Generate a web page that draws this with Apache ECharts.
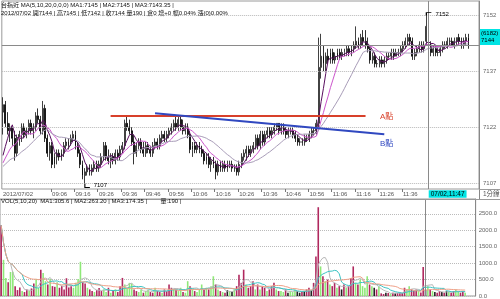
<!DOCTYPE html>
<html><head><meta charset="utf-8">
<script src="https://cdn.jsdelivr.net/npm/echarts@6/dist/echarts.min.js"></script>
<style>html,body{margin:0;padding:0;background:#fff}#c{width:500px;height:299px}</style>
</head><body><div id="c"></div>
<script>
// ---------- data ----------
const dateLabel = '2012/07/02';
const sessionStartMinute = 8 * 60 + 45;   // 08:45
const slotCount = 204;                     // time slots on the axis
const opens = [7126,7128,7123,7121,7122,7119,7115,7119,7120,7122,
 7120,7121,7123,7121,7122,7125,7124,7121,7127,7119,
 7115,7117,7112,7114,7115,7114,7115,7117,7117,7118,
 7119,7120,7117,7115,7112,7109,7110,7111,7110,7111,
 7112,7111,7112,7114,7117,7114,7113,7114,7113,7115,
 7114,7116,7117,7123,7122,7121,7118,7115,7117,7118,
 7116,7115,7117,7116,7115,7117,7118,7117,7119,7120,
 7119,7120,7121,7122,7123,7122,7124,7122,7121,7122,
 7120,7116,7117,7116,7117,7116,7115,7113,7114,7112,
 7113,7112,7110,7112,7111,7112,7111,7112,7112,7111,
 7111,7110,7112,7114,7115,7116,7115,7116,7117,7119,
 7117,7120,7118,7120,7121,7120,7121,7122,7123,7121,
 7122,7121,7120,7121,7121,7120,7119,7118,7118,7118,
 7119,7119,7120,7121,7121,7123,7138,7141,7139,7141,
 7140,7142,7140,7141,7142,7141,7142,7142,7143,7142,
 7143,7144,7145,7144,7146,7145,7144,7143,7140,7141,
 7139,7139,7140,7139,7140,7141,7141,7142,7141,7142,
 7142,7143,7144,7145,7146,7145,7141,7142,7143,7144,
 7143,7145,7144,7144,7142,7143,7142,7142,7143,7144,
 7144,7145,7145,7144,7145,7146,7145,7144,7145,7146];
const closes = [7128,7123,7121,7122,7119,7115,7119,7120,7122,7120,
 7121,7123,7121,7122,7125,7124,7121,7127,7119,7115,
 7117,7112,7114,7115,7114,7115,7117,7118,7118,7119,
 7120,7117,7115,7112,7109,7110,7111,7110,7111,7112,
 7111,7112,7114,7117,7114,7113,7114,7113,7115,7114,
 7116,7117,7123,7122,7121,7118,7115,7117,7118,7116,
 7115,7117,7116,7115,7117,7118,7117,7119,7120,7119,
 7120,7121,7122,7123,7122,7124,7122,7121,7122,7120,
 7116,7117,7116,7117,7116,7115,7113,7114,7112,7113,
 7112,7110,7112,7111,7112,7111,7112,7112,7111,7111,
 7110,7112,7114,7115,7116,7115,7116,7117,7119,7117,
 7120,7118,7120,7121,7120,7121,7122,7123,7121,7122,
 7121,7120,7121,7121,7120,7119,7118,7118,7118,7119,
 7119,7120,7121,7121,7123,7138,7141,7139,7141,7140,
 7142,7140,7141,7142,7141,7142,7142,7143,7142,7143,
 7144,7145,7144,7146,7145,7144,7143,7140,7141,7139,
 7139,7140,7139,7140,7141,7141,7142,7141,7142,7142,
 7143,7144,7145,7146,7145,7141,7142,7143,7144,7143,
 7144,7149,7144,7142,7143,7142,7142,7143,7144,7144,
 7145,7145,7144,7145,7146,7145,7144,7145,7146,7144];
const lows = [7120,7122,7120,7118,7117,7113,7114,7117,7118,7119,
 7119,7120,7120,7119,7121,7123,7120,7120,7118,7114,
 7113,7111,7111,7112,7113,7113,7114,7116,7116,7117,
 7118,7116,7114,7111,7108,7107,7109,7109,7109,7110,
 7110,7110,7111,7113,7113,7112,7111,7112,7112,7113,
 7113,7115,7116,7121,7120,7117,7112,7114,7116,7115,
 7114,7114,7115,7114,7114,7116,7116,7116,7118,7118,
 7118,7119,7120,7121,7121,7121,7121,7120,7120,7119,
 7115,7114,7115,7115,7115,7114,7112,7112,7111,7110,
 7111,7108,7109,7110,7110,7110,7110,7111,7110,7110,
 7109,7109,7111,7113,7113,7114,7114,7115,7116,7116,
 7116,7117,7117,7119,7119,7119,7120,7121,7120,7120,
 7120,7119,7119,7120,7119,7118,7117,7117,7117,7117,
 7118,7118,7119,7120,7120,7122,7135,7137,7137,7139,
 7139,7139,7139,7140,7140,7140,7141,7141,7141,7141,
 7142,7143,7143,7143,7144,7143,7142,7139,7139,7138,
 7138,7138,7138,7138,7139,7140,7140,7140,7141,7141,
 7141,7142,7143,7144,7144,7140,7140,7141,7142,7142,
 7142,7144,7142,7141,7141,7141,7141,7141,7142,7143,
 7143,7144,7144,7143,7144,7144,7143,7143,7144,7143];
const highs = [7130,7129,7126,7123,7122,7121,7120,7121,7123,7123,
 7122,7124,7124,7123,7126,7127,7125,7129,7128,7120,
 7118,7118,7115,7116,7116,7116,7118,7119,7119,7120,
 7121,7121,7118,7116,7113,7111,7112,7112,7112,7113,
 7113,7113,7115,7118,7118,7116,7115,7115,7116,7116,
 7117,7118,7124,7125,7124,7122,7120,7118,7119,7119,
 7118,7118,7118,7117,7118,7119,7119,7120,7121,7121,
 7121,7122,7123,7124,7125,7125,7125,7124,7123,7123,
 7121,7118,7118,7118,7118,7117,7116,7115,7115,7114,
 7114,7113,7113,7113,7113,7113,7113,7113,7113,7112,
 7112,7113,7115,7116,7117,7117,7117,7118,7120,7120,
 7121,7121,7121,7122,7122,7122,7123,7123,7123,7123,
 7123,7122,7122,7122,7122,7121,7120,7119,7119,7120,
 7120,7121,7122,7122,7124,7146,7147,7144,7142,7143,
 7143,7143,7142,7143,7143,7143,7143,7144,7144,7144,
 7145,7149,7146,7147,7148,7148,7146,7144,7142,7142,
 7140,7141,7141,7141,7142,7142,7143,7143,7143,7143,
 7144,7145,7146,7147,7147,7146,7143,7144,7145,7145,
 7145,7152,7145,7145,7144,7144,7143,7144,7145,7145,
 7146,7146,7146,7146,7146,7147,7146,7146,7147,7147];
const volumes = [2150,1100,550,420,730,740,300,180,260,150,
 120,200,150,230,380,520,250,800,700,450,
 350,520,300,280,420,250,300,200,540,260,
 300,250,400,520,1040,420,380,250,200,150,
 120,180,240,150,200,120,250,100,150,200,
 120,300,550,350,250,400,380,200,150,120,
 200,100,150,180,120,100,250,150,120,100,
 200,150,350,250,200,180,150,250,120,100,
 450,300,200,150,120,200,350,180,250,200,
 300,600,350,200,150,120,100,180,150,120,
 200,300,650,400,800,350,250,300,450,200,
 350,200,300,250,150,200,300,400,200,150,
 150,120,200,100,150,120,200,150,100,120,
 150,200,250,180,400,1200,2700,900,600,450,
 500,350,300,400,250,300,200,350,250,300,
 550,900,400,350,500,300,250,600,350,300,
 250,200,300,80,60,100,90,70,100,80,
 90,95,90,250,200,300,204,150,200,150,
 108,880,190,300,200,150,120,100,150,120,
 100,150,120,100,150,200,120,100,150,100];
// closes of the previous session used to seed the moving averages
const prevCloses = [7110,7111,7109,7110,7112,7111,7110,7109,7110,7111,
 7112,7110,7109,7110,7111,7112,7111,7110,7111,7112];
const maPeriods = [5, 10, 20];
const priceTicks = [7107, 7122, 7137, 7152];
const volTicks = [0, 500, 1000, 1500, 2000, 2500];
const xLabelFirst = 21, xLabelLast = 171, xLabelStep = 10;
const cursorIndex = 182, cursorPrice = 7144, openInterest = '(6182)';
const highIndex = 181, highValue = 7152, lowIndex = 35, lowValue = 7107;
const trendA = [[46, 7125], [155, 7125]];
const trendB = [[65, 7125.7], [163, 7120.1]];
const labelA = [164, 7124.7], labelB = [164, 7117.6];
const headerMA = ['MA1:7145', 'MA2:7145', 'MA3:7143.35'];
const volLegend = ['MA1:305.6', 'MA2:263.20', 'MA3:174.35'];

// ---------- derived ----------
const categories = [];
for (let k = 0; k < slotCount; k++) {
  const m = sessionStartMinute + k;
  categories.push(String(Math.floor(m / 60)).padStart(2, '0') + ':' + String(m % 60).padStart(2, '0'));
}
const candles = opens.map((o, i) => [o, closes[i], lows[i], highs[i]]);
const allCloses = prevCloses.concat(closes);
function priceMA(n) {
  return closes.map((c, i) => {
    const end = prevCloses.length + i;
    let s = 0; for (let k = end - n + 1; k <= end; k++) s += allCloses[k];
    return +(s / n).toFixed(2);
  });
}
function volMA(n) {
  return volumes.map((v, i) => {
    const st = Math.max(0, i - n + 1);
    let s = 0; for (let k = st; k <= i; k++) s += volumes[k];
    return +(s / (i - st + 1)).toFixed(2);
  });
}
const volBars = volumes.map((v, i) => ({
  value: v,
  itemStyle: { color: closes[i] > opens[i] ? '#b0285e' : (closes[i] < opens[i] ? '#8fe878' : '#222') }
}));

const FONT = '"Liberation Sans","Noto Sans CJK TC",sans-serif';
const priceMAColors = ['#5a1060', '#cc55cc', '#a89cb8'];
const volMAColors = ['#b8b8b8', '#3cc4c4', '#f0a088'];

const chart = echarts.init(document.getElementById('c'), null, { renderer: 'canvas', devicePixelRatio: 1 });

const dotted = priceTicks.map(v => ({ yAxis: v, lineStyle: { type: 'dotted', color: '#b8b8b8', width: 1 } }));

const option = {
  animation: false,
  backgroundColor: '#fff',
  grid: [
    { left: 0, right: 21, top: 1, height: 188, show: true, borderColor: '#9a9a9a', borderWidth: 1 },
    { left: 0, right: 21, top: 199, height: 98, show: true, borderColor: '#9a9a9a', borderWidth: 1 }
  ],
  xAxis: [
    {
      type: 'category', gridIndex: 0, data: categories, boundaryGap: true,
      axisLine: { show: false },
      axisTick: {
        show: true, length: 3, alignWithLabel: false, lineStyle: { color: '#777' },
        interval: idx => idx >= xLabelFirst && idx <= xLabelLast && (idx - xLabelFirst) % xLabelStep === 0
      },
      axisLabel: {
        show: true, fontSize: 6, fontFamily: FONT, color: '#555', align: 'left', margin: 2,
        interval: idx => idx === 0 || (idx >= xLabelFirst && idx <= xLabelLast && (idx - xLabelFirst) % xLabelStep === 0),
        formatter: (val, idx) => idx === 0 ? dateLabel : val
      },
      splitLine: { show: false }
    },
    {
      type: 'category', gridIndex: 1, data: categories, boundaryGap: true,
      axisLine: { show: false }, axisTick: { show: false }, axisLabel: { show: false }, splitLine: { show: false }
    }
  ],
  yAxis: [
    {
      type: 'value', gridIndex: 0, position: 'right', min: 7105.4, max: 7155.8, scale: true,
      axisLine: { show: true, lineStyle: { color: '#888' } },
      axisTick: { show: false },
      splitLine: { show: false },
      axisLabel: { show: true, customValues: priceTicks, fontSize: 6, fontFamily: FONT, color: '#666', margin: 4,
        formatter: v => String(Math.round(v)) }
    },
    {
      type: 'value', gridIndex: 1, position: 'right', min: 0, max: 2950, interval: 500,
      axisLine: { show: true, lineStyle: { color: '#888' } },
      axisTick: { show: false },
      splitLine: { show: true, lineStyle: { type: 'dotted', color: '#bbb' } },
      axisLabel: { show: true, fontSize: 6, fontFamily: FONT, color: '#666', margin: 3, showMaxLabel: false,
        formatter: v => v.toFixed(1) }
    }
  ],
  series: [
    {
      type: 'candlestick', xAxisIndex: 0, yAxisIndex: 0, data: candles, barWidth: 1.4,
      itemStyle: { color: '#ffffff', color0: '#000000', borderColor: '#111111', borderColor0: '#000000', borderWidth: 0.8 },
      markLine: {
        silent: true, symbol: ['none', 'none'], label: { show: false }, animation: false,
        data: dotted.concat([
          { xAxis: categories[cursorIndex], lineStyle: { type: 'solid', color: '#8a8a8a', width: 1 } },
          { yAxis: cursorPrice, lineStyle: { type: 'solid', color: '#8a8a8a', width: 1 } },
          [{ coord: [categories[trendA[0][0]], trendA[0][1]], lineStyle: { type: 'solid', color: '#d8402a', width: 2 } },
           { coord: [categories[trendA[1][0]], trendA[1][1]] }],
          [{ coord: [categories[trendB[0][0]], trendB[0][1]], lineStyle: { type: 'solid', color: '#3048c0', width: 2 } },
           { coord: [categories[trendB[1][0]], trendB[1][1]] }]
        ])
      },
      markPoint: {
        silent: true, animation: false,
        data: [
          { coord: [categories[highIndex], highValue], symbol: 'path://M0,10L0,0L10,0', symbolKeepAspect: false,
            symbolSize: [5, 3], symbolOffset: [2.5, -1],
            itemStyle: { color: 'none', borderColor: '#000', borderWidth: 1 },
            label: { show: true, position: 'right', distance: 1, formatter: String(highValue), fontSize: 6, fontFamily: FONT, color: '#000' } },
          { coord: [categories[lowIndex], lowValue], symbol: 'path://M0,0L0,10L10,10', symbolKeepAspect: false,
            symbolSize: [5, 4], symbolOffset: [2.5, 2.5],
            itemStyle: { color: 'none', borderColor: '#000', borderWidth: 1 },
            label: { show: true, position: 'right', distance: 1, formatter: String(lowValue), fontSize: 6, fontFamily: FONT, color: '#000' } },
          { coord: [categories[labelA[0]], labelA[1]], symbol: 'rect', symbolSize: 1, itemStyle: { color: 'rgba(0,0,0,0)' },
            label: { show: true, position: 'inside', formatter: 'A點', fontSize: 8, fontFamily: FONT, color: '#d8402a' } },
          { coord: [categories[labelB[0]], labelB[1]], symbol: 'rect', symbolSize: 1, itemStyle: { color: 'rgba(0,0,0,0)' },
            label: { show: true, position: 'inside', formatter: 'B點', fontSize: 8, fontFamily: FONT, color: '#3048c0' } }
        ]
      }
    }
  ].concat(maPeriods.map((n, k) => ({
    type: 'line', xAxisIndex: 0, yAxisIndex: 0, data: priceMA(n), showSymbol: false, symbol: 'none',
    lineStyle: { color: priceMAColors[k], width: 1 }, silent: true
  }))).concat([
    {
      type: 'bar', xAxisIndex: 1, yAxisIndex: 1, data: volBars, barWidth: 1.6,
      markLine: { silent: true, symbol: ['none', 'none'], label: { show: false }, animation: false,
        data: [{ xAxis: categories[cursorIndex], lineStyle: { type: 'solid', color: '#8a8a8a', width: 1 } }] }
    }
  ]).concat(maPeriods.map((n, k) => ({
    type: 'line', xAxisIndex: 1, yAxisIndex: 1, data: volMA(n), showSymbol: false, symbol: 'none',
    lineStyle: { color: volMAColors[k], width: 1 }, silent: true
  })))
};
chart.setOption(option);

// ---------- text overlays ----------
const FS = 6;
const rich = {
  k: { fontSize: FS, fontFamily: FONT, fill: '#111', color: '#111' },
  m1: { fontSize: FS, fontFamily: FONT, color: '#222' },
  m2: { fontSize: FS, fontFamily: FONT, color: '#d844d8' },
  m3: { fontSize: FS, fontFamily: FONT, color: '#a0a0a0' },
  hi: { fontSize: FS, fontFamily: FONT, color: '#c81010' },
  v1: { fontSize: FS, fontFamily: FONT, color: '#aaaaaa' },
  v2: { fontSize: FS, fontFamily: FONT, color: '#2aa8a8' },
  v3: { fontSize: FS, fontFamily: FONT, color: '#e49070' },
  vq: { fontSize: FS, fontFamily: FONT, color: '#20aacc' },
  sep: { fontSize: FS, fontFamily: FONT, color: '#777' }
};
function rtxt(t, x, y) {
  return { type: 'text', x: x, y: y, silent: true, z: 100,
    style: { text: t, rich: rich, fill: '#111', fontSize: FS, fontFamily: FONT, align: 'left', verticalAlign: 'middle' } };
}
function txt(t, x, y, color, size, extra) {
  return {
    type: 'text', x: x, y: y, silent: true, z: 100,
    style: Object.assign({ text: t, fill: color, fontSize: size, fontFamily: FONT,
      align: 'left', verticalAlign: 'middle' }, extra || {})
  };
}
const ci = cursorIndex;
const cx = chart.convertToPixel({ xAxisIndex: 0 }, categories[ci]);
const cy = chart.convertToPixel({ yAxisIndex: 0 }, cursorPrice);
const pctRange = ((highs[ci] - lows[ci]) / closes[ci] * 100).toFixed(2);
const line1 = '{k|台指近 MA(5,10,20,0,0,0) }{m1|' + headerMA[0] + '}{sep| | }{m2|' + headerMA[1] + '}{sep| | }{m3|' + headerMA[2] + '}{sep| |}';
const line2 = '{k|' + dateLabel + ' 開' + opens[ci] + '}{sep| | }{hi|高' + highs[ci] + '}{sep| | }{k|低' + lows[ci] +
  '}{sep| | }{k|收' + closes[ci] + ' 量' + volumes[ci] + '}{sep| | }{k|倉0 增+0 幅' + pctRange + '% 漲(0)0.00%}';
const line3 = '{k|VOL(5,10,20)  }{v1|' + volLegend[0] + '}{sep| | }{v2|' + volLegend[1] + '}{sep| | }{v3|' + volLegend[2] +
  '}{sep| |        }{vq|量:' + volumes[ci] + '}{sep| |}';
const g = [
  rtxt(line1, 1, 5),
  rtxt(line2, 1, 13),
  rtxt(line3, 1, 201.5),
  txt('07/02,' + categories[ci], cx, 194, '#000', 6.5, { backgroundColor: '#00e4e4', padding: [1, 2, 0, 2] }),
  txt(openInterest + '\n' + cursorPrice, 480, cy - 8, '#000', 6, { backgroundColor: '#00e4e4', padding: [1, 1, 1, 1], lineHeight: 7, width: 19 }),
  txt('1分鐘', 483, 194, '#555', 6.5),
  { type: 'line', silent: true, z: 90, shape: { x1: 479.5, y1: 189, x2: 479.5, y2: 199 }, style: { stroke: '#888', lineWidth: 1 } },
  { type: 'line', silent: true, z: 90, shape: { x1: 0, y1: 199.5, x2: 500, y2: 199.5 }, style: { stroke: '#9a9a9a', lineWidth: 1 } },
  { type: 'line', silent: true, z: 90, shape: { x1: 479, y1: 189.5, x2: 500, y2: 189.5 }, style: { stroke: '#9a9a9a', lineWidth: 1 } }
];
chart.setOption({ graphic: g });
</script>
</body></html>
